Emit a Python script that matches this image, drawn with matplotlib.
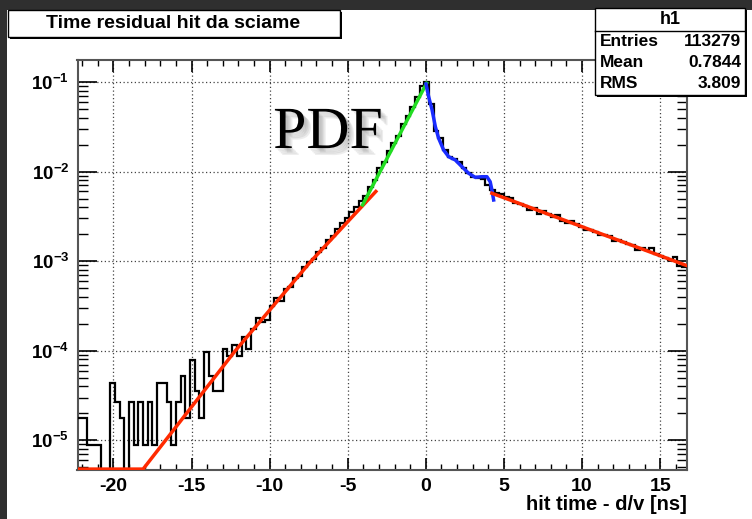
import numpy as np
import matplotlib
matplotlib.use('Agg')
import matplotlib.pyplot as plt
import matplotlib.patheffects as pe
from matplotlib.patches import Rectangle
from matplotlib.ticker import MultipleLocator, LogLocator, NullFormatter, FuncFormatter

plt.rcParams['font.family'] = 'Liberation Sans'
plt.rcParams['font.weight'] = 'bold'
plt.rcParams['axes.unicode_minus'] = False
plt.rcParams['mathtext.fontset'] = 'custom'
plt.rcParams['mathtext.rm'] = 'Liberation Sans:bold'
plt.rcParams['mathtext.bf'] = 'Liberation Sans:bold'
plt.rcParams['mathtext.default'] = 'bf'

# histogram h1 (counts per bin, normalised by entries)
entries = 113279
mean = 0.7844
rms = 3.809
x_lo, x_hi, nbins = -22.3, 16.7, 130
counts = [2, 2, 1, 1, 1, 0, 0, 5, 3, 2,
          0, 3, 1, 3, 1, 3, 1, 5, 5, 3,
          1, 3, 6, 2, 9, 4, 2, 11, 6, 4,
          4, 12, 10, 13, 10, 16, 12, 20, 26, 24,
          25, 36, 44, 41, 55, 58, 74, 78, 97, 110,
          120, 145, 160, 195, 215, 262, 300, 345, 400, 455,
          529, 600, 763, 920, 1240, 1460, 1925, 2370, 2850, 3840,
          4720, 5940, 7660, 10100, 11300, 6370, 3200, 2720, 1970, 1640,
          1565, 1460, 1242, 1082, 987, 964, 942, 800, 697, 650,
          630, 585, 575, 510, 498, 470, 420, 440, 380, 410,
          385, 350, 370, 320, 300, 315, 295, 275, 255, 252,
          238, 220, 222, 215, 190, 195, 186, 178, 170, 152,
          158, 150, 160, 138, 128, 122, 118, 125, 100, 98]

# fitted functions
red_left_x = [-22.3, -18.1, -12.2, -7.35, -3.2]
red_left_y = [4.78e-6, 4.78e-6, 1.0e-4, 1.0e-3, 6.0e-3]
green_x = [-4.05, 0.05]
green_y = [4.25e-3, 0.097]
blue_x = [0.01, 0.18, 0.40, 0.61, 0.82, 1.14, 1.46, 1.89, 2.31, 2.74,
          3.16, 3.59, 3.91, 4.12, 4.23, 4.34]
blue_y = [0.095, 0.0686, 0.0487, 0.0317, 0.0235, 0.0174, 0.01466, 0.01346,
          0.01135, 0.00957, 0.00863, 0.00877, 0.00877, 0.0077, 0.00624, 0.00482]
red_right_x = [4.23, 16.7]
red_right_y = [5.73e-3, 8.93e-4]

W, H = 752, 519
fig = plt.figure(figsize=(W / 100, H / 100), dpi=100, facecolor='#2f2f2f')

def fx(px):
    return px / W

def fy(py):
    return 1 - py / H

# white canvas
fig.add_artist(Rectangle((fx(7), 0), 1 - fx(7), fy(10), transform=fig.transFigure,
                         facecolor='white', edgecolor='none', zorder=-1))

def box(x0, y0, x1, y1):
    fig.add_artist(Rectangle((fx(x0 + 2), fy(y1 + 2)), fx(x1) - fx(x0), fy(y0) - fy(y1),
                             transform=fig.transFigure, facecolor='black', edgecolor='none', zorder=5))
    fig.add_artist(Rectangle((fx(x0), fy(y1)), fx(x1) - fx(x0), fy(y0) - fy(y1),
                             transform=fig.transFigure, facecolor='white', edgecolor='black',
                             lw=1, zorder=6))

ax = fig.add_axes([fx(77.5), fy(470), fx(686.7) - fx(77.5), fy(60) - fy(470)])
ax.set_yscale('log')
ax.set_xlim(x_lo, x_hi)
ax.set_ylim(4.67e-6, 0.176)

edges = np.linspace(x_lo, x_hi, nbins + 1)
vals = np.array(counts) / entries
vals = np.where(vals > 0, vals, 1e-9)
ax.stairs(vals, edges, baseline=None, color='black', lw=1.6, zorder=3)

ax.plot(red_left_x, red_left_y, color='#ff2a00', lw=2.5, zorder=4)
ax.plot(green_x, green_y, color='#22dd22', lw=2.5, zorder=4)
ax.plot(blue_x, blue_y, color='#1a2cff', lw=2.5, zorder=4)
ax.plot(red_right_x, red_right_y, color='#ff2a00', lw=2.5, zorder=4)

ax.xaxis.set_major_locator(MultipleLocator(5))
ax.xaxis.set_minor_locator(MultipleLocator(1))
ax.yaxis.set_major_locator(LogLocator(base=10, numticks=12))
ax.yaxis.set_minor_locator(LogLocator(base=10, subs=np.arange(2, 10) * 1.0, numticks=40))
ax.yaxis.set_minor_formatter(NullFormatter())
ax.yaxis.set_major_formatter(FuncFormatter(lambda v, p: r'$10^{%d}$' % round(np.log10(v))))

ax.tick_params(axis='x', which='major', direction='in', length=8.6, width=1.2,
               top=True, labelsize=14, pad=6)
ax.tick_params(axis='x', which='minor', direction='in', length=4.3, width=1.0, top=True)
ax.tick_params(axis='y', which='major', direction='in', length=14, width=1.2,
               right=True, labelsize=13.5, pad=6)
ax.tick_params(axis='y', which='minor', direction='in', length=7, width=1.0, right=True)
for s in ax.spines.values():
    s.set_color('#555555')
    s.set_linewidth(1.5)
ax.grid(True, which='major', linestyle=(0, (1, 2)), color='#444444', lw=0.9)

fig.text(fx(687), fy(505), 'hit time - d/v [ns]', ha='right', va='center', fontsize=14.5)

# "PDF" label with soft shadow
shadow = [pe.SimplePatchShadow(offset=(o, -o), shadow_rgbFace='#777777', alpha=0.13)
          for o in (1, 2, 3, 4, 5)]
fig.text(fx(328), fy(134), 'PDF', ha='center', va='center', fontsize=43,
         family='Liberation Serif', weight='normal', zorder=8,
         path_effects=shadow + [pe.Normal()])

# title box
box(8, 10, 340, 37)
fig.text(fx(173), fy(23), 'Time residual hit da sciame', ha='center', va='center',
         fontsize=14, zorder=7)

# stats box
box(595, 8, 745, 95)
fig.add_artist(plt.Line2D([fx(595), fx(745)], [fy(31), fy(31)], transform=fig.transFigure,
                          color='black', lw=1, zorder=7))
fig.text(fx(670), fy(20), 'h1', ha='center', va='center', fontsize=13, zorder=7)
rows = [('Entries', '%d' % entries), ('Mean', '%.4f' % mean), ('RMS', '%.3f' % rms)]
for i, (lab, val) in enumerate(rows):
    y = 42 + 20.5 * i
    fig.text(fx(600), fy(y), lab, ha='left', va='center', fontsize=12.5, zorder=7)
    fig.text(fx(741), fy(y), val, ha='right', va='center', fontsize=12.5, zorder=7)

fig.savefig('out.png', dpi=100, facecolor=fig.get_facecolor())
